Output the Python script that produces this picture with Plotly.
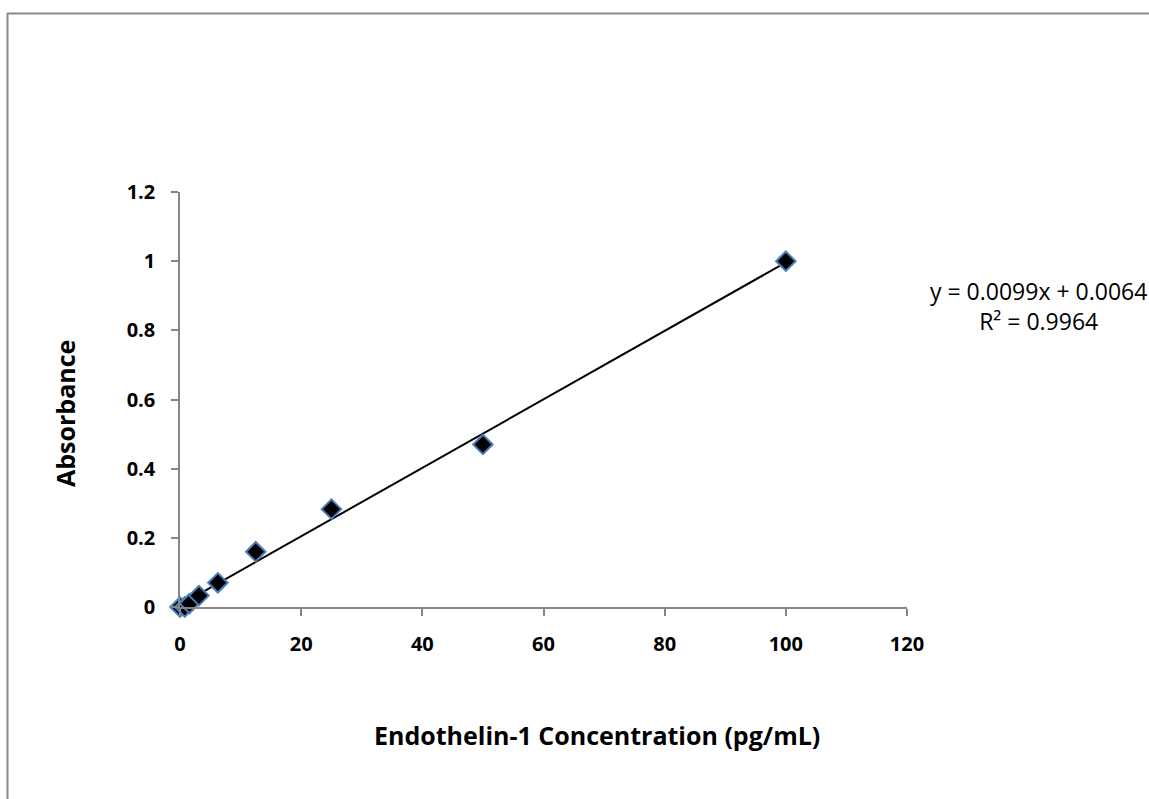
import plotly.graph_objects as go

# Endothelin-1 standard curve
concentration = [0, 0.78, 1.56, 3.125, 6.25, 12.5, 25, 50, 100]
absorbance = [0.0, 0.0, 0.01, 0.033, 0.07, 0.16, 0.283, 0.47, 1.0]

slope = 0.0099
intercept = 0.0064
r_squared = 0.9964

fit_x = [0, 100]
fit_y = [slope * v + intercept for v in fit_x]

W, H = 1149, 799
L, R, T, B = 180, 907, 192, 607

font_family = "Open Sans, Liberation Sans, sans-serif"
axis_color = "#868686"

fig = go.Figure()
fig.add_trace(go.Scatter(
    x=fit_x, y=fit_y, mode="lines",
    line=dict(color="black", width=2), showlegend=False, hoverinfo="skip",
))
fig.add_trace(go.Scatter(
    x=concentration, y=absorbance, mode="markers",
    marker=dict(symbol="diamond", size=15, color="black",
                line=dict(color="#4a7ebb", width=2)),
    showlegend=False, cliponaxis=False,
))

def px_x(p):
    return (p - L) / (R - L)

def px_y(p):
    return (B - p) / (B - T)

shapes = [
    dict(type="line", xref="paper", yref="paper",
         x0=px_x(7.5), x1=px_x(7.5), y0=px_y(13), y1=px_y(805),
         line=dict(color="#888888", width=2)),
    dict(type="line", xref="paper", yref="paper",
         x0=px_x(7), x1=px_x(1155), y0=px_y(13.5), y1=px_y(13.5),
         line=dict(color="#888888", width=2)),
]

fig.update_layout(
    width=W, height=H,
    margin=dict(l=L, r=W - R, t=T, b=H - B),
    paper_bgcolor="white", plot_bgcolor="white",
    font=dict(family=font_family, color="black"),
    shapes=shapes,
    xaxis=dict(
        range=[0, 120], tickvals=[0, 20, 40, 60, 80, 100, 120],
        showgrid=False, zeroline=False, showline=True,
        linecolor=axis_color, linewidth=1.5,
        ticks="outside", ticklen=7, tickcolor=axis_color, tickwidth=1.5,
        tickfont=dict(size=20, family=font_family, weight="bold"),
        ticklabelstandoff=11,
    ),
    yaxis=dict(
        range=[0, 1.2], tickvals=[0, 0.2, 0.4, 0.6, 0.8, 1, 1.2],
        ticktext=["0", "0.2", "0.4", "0.6", "0.8", "1", "1.2"],
        showgrid=False, zeroline=False, showline=True,
        linecolor=axis_color, linewidth=1.5,
        ticks="outside", ticklen=7, tickcolor=axis_color, tickwidth=1.5,
        tickfont=dict(size=20, family=font_family, weight="bold"),
        ticklabelstandoff=12,
    ),
    annotations=[
        dict(text="<b>Endothelin-1 Concentration (pg/mL)</b>",
             xref="paper", yref="paper", x=px_x(597), y=px_y(735),
             showarrow=False, font=dict(size=25), xanchor="center", yanchor="middle"),
        dict(text="<b>Absorbance</b>", textangle=-90,
             xref="paper", yref="paper", x=px_x(65), y=px_y(414),
             showarrow=False, font=dict(size=25), xanchor="center", yanchor="middle"),
        dict(text=f"y = {slope}x + {intercept}<br>R² = {r_squared}",
             xref="paper", yref="paper", x=px_x(1038), y=px_y(306),
             showarrow=False, font=dict(size=23), align="center",
             xanchor="center", yanchor="middle"),
    ],
)

fig.write_html("out.html")
